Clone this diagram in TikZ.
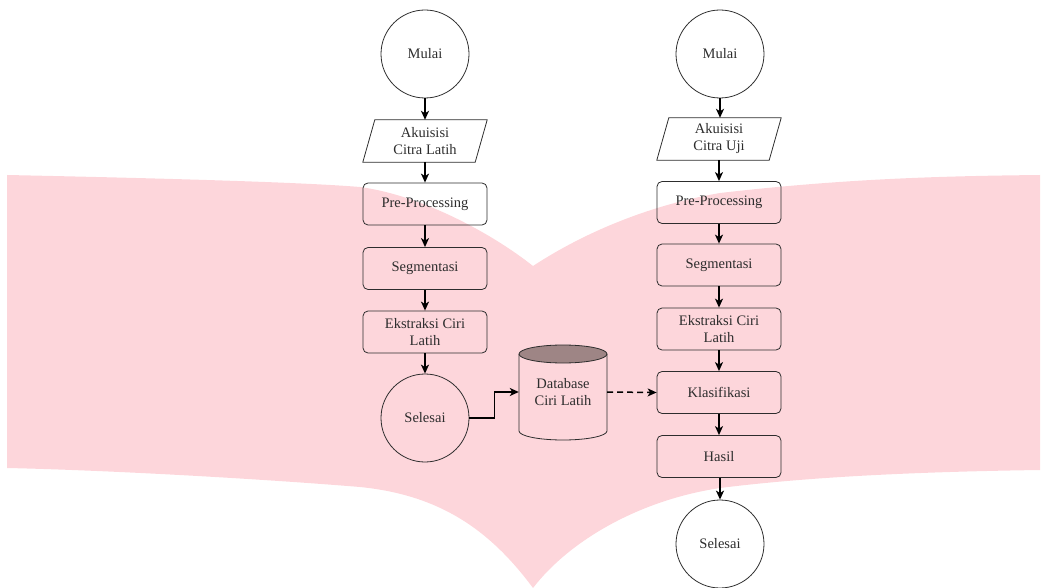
\documentclass[tikz,border=0pt]{standalone}
\usepackage{fontspec}
\setmainfont{Liberation Serif}
\usetikzlibrary{arrows.meta}
\definecolor{wm}{RGB}{253,214,219}
\definecolor{dbtop}{RGB}{158,133,133}
\definecolor{ink}{RGB}{45,45,45}
\tikzset{
  txt/.style={font=\fontsize{14.5}{17}\selectfont, text=ink, align=center, inner sep=0pt},
  startend/.style={txt, circle, draw=ink, line width=0.8pt, minimum size=88pt},
  procbox/.style={txt, rectangle, rounded corners=5pt, draw=ink, line width=0.8pt, minimum width=124pt, minimum height=42pt},
  iobox/.style={txt, rectangle, minimum width=112pt, minimum height=42pt},
  iodraw/.style={draw=ink, line width=0.8pt},
  flow/.style={draw=black, line width=1.5pt, -{Stealth[length=9pt,width=8pt,inset=2.5pt]}},
  dflow/.style={flow, dash pattern=on 6pt off 4pt},
}
\begin{document}
\begin{tikzpicture}[x=1pt,y=1pt]
\useasboundingbox (0,0) rectangle (1047,-588);
% watermark
\fill[wm] (7,-175) .. controls (150,-178) and (300,-182) .. (360,-187)
  .. controls (420,-195) and (490,-232) .. (533,-266)
  .. controls (585,-232) and (650,-205) .. (720,-193)
  .. controls (850,-178) and (950,-176) .. (1040,-175)
  -- (1040,-470)
  .. controls (900,-472) and (800,-478) .. (720,-488)
  .. controls (640,-500) and (570,-540) .. (533,-588)
  .. controls (490,-530) and (440,-495) .. (360,-487)
  .. controls (250,-478) and (100,-470) .. (7,-468) -- cycle;

% left column
\node[startend] (m1) at (425,-54) {Mulai};
\node[iobox] (ak1) at (425,-141) {Akuisisi\\Citra Latih};
\draw[iodraw] ([xshift=-6pt]ak1.south west) -- ([xshift=6pt]ak1.north west) -- ([xshift=6pt]ak1.north east) -- ([xshift=-6pt]ak1.south east) -- cycle;
\node[procbox] (pre1) at (425,-204) {Pre-Processing};
\node[procbox] (seg1) at (425,-268.5) {Segmentasi};
\node[procbox] (eks1) at (425,-332) {Ekstraksi Ciri\\Latih};
\node[startend] (sel1) at (425,-418) {Selesai};

% database
\fill[dbtop] (563,-354) ellipse (44 and 9);
\draw[ink, line width=0.8pt] (563,-354) ellipse (44 and 9);
\draw[ink, line width=0.8pt] (519,-354) -- (519,-431) arc (180:360:44 and 9) -- (607,-354);
\node[txt, minimum width=88pt, minimum height=40pt] (db) at (563,-392) {Database\\Ciri Latih};

% right column
\node[startend] (m2) at (720,-54) {Mulai};
\node[iobox] (ak2) at (719,-139) {Akuisisi\\Citra Uji};
\draw[iodraw] ([xshift=-6pt]ak2.south west) -- ([xshift=6pt]ak2.north west) -- ([xshift=6pt]ak2.north east) -- ([xshift=-6pt]ak2.south east) -- cycle;
\node[procbox] (pre2) at (719,-202.5) {Pre-Processing};
\node[procbox] (seg2) at (719,-265) {Segmentasi};
\node[procbox] (eks2) at (719,-329) {Ekstraksi Ciri\\Latih};
\node[procbox] (klas) at (719,-392.5) {Klasifikasi};
\node[procbox] (hasil) at (719,-456.5) {Hasil};
\node[startend] (sel2) at (720,-544) {Selesai};

% connectors
\draw[flow] (m1) -- (ak1);
\draw[flow] (ak1) -- (pre1);
\draw[flow] (pre1) -- (seg1);
\draw[flow] (seg1) -- (eks1);
\draw[flow] (eks1) -- (sel1);
\draw[flow] (sel1.east) -- ++(25,0) |- (db.west);
\draw[dflow] (db.east) -- (klas.west);
\draw[flow] (m2.south) -- (ak2.north -| m2.south);
\draw[flow] (ak2) -- (pre2);
\draw[flow] (pre2) -- (seg2);
\draw[flow] (seg2) -- (eks2);
\draw[flow] (eks2) -- (klas);
\draw[flow] (klas) -- (hasil);
\draw[flow] (hasil.south -| sel2.north) -- (sel2.north);
\end{tikzpicture}
\end{document}
